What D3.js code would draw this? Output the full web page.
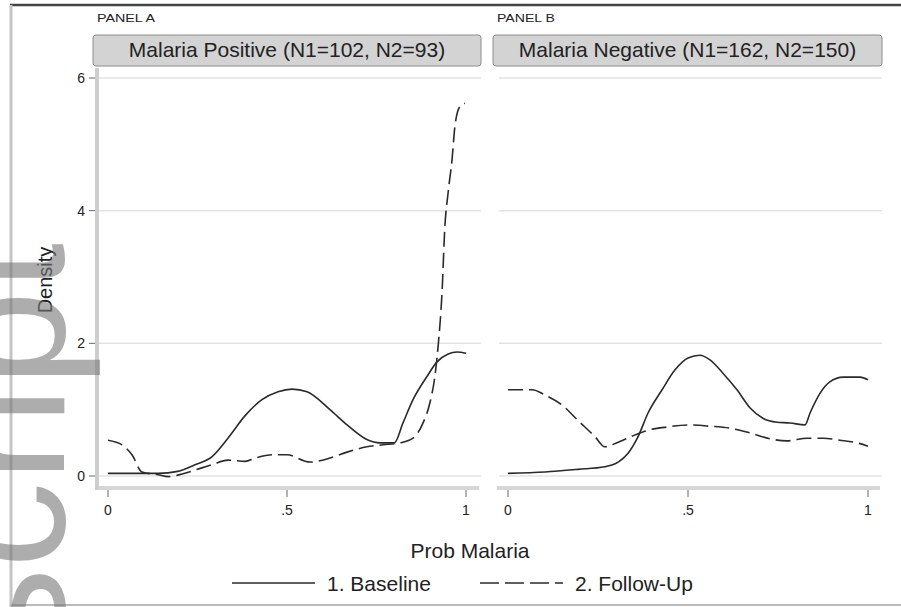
<!DOCTYPE html>
<meta charset="utf-8">
<script src="https://d3js.org/d3.v7.min.js"></script>
<style>
  body { margin: 0; background: #fff; }
  text { font-family: "Liberation Sans", Arial, sans-serif; fill: #222; }
</style>
<svg id="chart" width="901" height="607"></svg>
<script>

  // data
  var panelTitles = ["PANEL A", "PANEL B"]
  var stripLabels = ["Malaria Positive (N1=102, N2=93)", "Malaria Negative (N1=162, N2=150)"]
  var yTicks = [0, 2, 4, 6]
  var xTicks = [0, 0.5, 1]
  var xTickLabels = ["0", ".5", "1"]
  var seriesNames = ["1. Baseline", "2. Follow-Up"]

  var posBaseline = [[0,0.04],[0.14,0.04],[0.195,0.07],[0.243,0.17],[0.29,0.29],[0.335,0.57],
    [0.383,0.91],[0.43,1.15],[0.475,1.27],[0.514,1.31],[0.556,1.27],[0.62,1.0],[0.668,0.77],
    [0.723,0.55],[0.76,0.5],[0.80,0.5],[0.824,0.8],[0.852,1.15],[0.891,1.5],[0.919,1.72],
    [0.95,1.84],[0.975,1.87],[1.0,1.85]]
  var posFollowUp = [[0,0.54],[0.039,0.47],[0.067,0.32],[0.095,0.06],[0.14,0.02],[0.168,-0.01],
    [0.207,0.03],[0.243,0.09],[0.29,0.17],[0.335,0.24],[0.383,0.22],[0.411,0.27],[0.458,0.32],
    [0.5,0.32],[0.564,0.21],[0.62,0.27],[0.668,0.36],[0.723,0.44],[0.768,0.47],[0.816,0.5],
    [0.852,0.57],[0.88,0.8],[0.899,1.1],[0.913,1.5],[0.922,1.95],[0.933,2.76],[0.941,3.76],
    [0.95,4.27],[0.961,4.77],[0.969,5.27],[0.983,5.57],[0.997,5.62]]
  var negBaseline = [[0,0.04],[0.103,0.06],[0.194,0.1],[0.269,0.14],[0.306,0.21],[0.333,0.34],
    [0.361,0.59],[0.389,0.95],[0.428,1.3],[0.464,1.6],[0.5,1.78],[0.533,1.82],[0.561,1.75],
    [0.597,1.55],[0.636,1.3],[0.672,1.03],[0.708,0.87],[0.747,0.81],[0.783,0.8],[0.825,0.77],
    [0.839,0.95],[0.867,1.25],[0.894,1.42],[0.931,1.49],[0.978,1.49],[1.0,1.45]]
  var negFollowUp = [[0,1.3],[0.067,1.3],[0.103,1.22],[0.15,1.07],[0.194,0.84],[0.242,0.59],
    [0.269,0.44],[0.306,0.51],[0.353,0.62],[0.389,0.69],[0.444,0.74],[0.5,0.77],[0.561,0.75],
    [0.617,0.72],[0.672,0.65],[0.728,0.56],[0.775,0.53],[0.831,0.57],[0.875,0.57],
    [0.922,0.54],[0.969,0.5],[1.0,0.45]]

  var panels = [
    { left: 97, right: 481, x0: 108, x1: 466, title: panelTitles[0], strip: stripLabels[0], series: [posBaseline, posFollowUp] },
    { left: 497, right: 882, x0: 508, x1: 868, title: panelTitles[1], strip: stripLabels[1], series: [negBaseline, negFollowUp] }
  ]
  var dashes = [null, "15,6"]

  var svg = d3.select("#chart")
  var y = d3.scaleLinear().domain([0, 6]).range([476, 78])

  // page frame
  svg.append("line").attr("x1", 10).attr("x2", 901).attr("y1", 5).attr("y2", 5)
    .attr("stroke", "#444").attr("stroke-width", 2.5)
  svg.append("line").attr("x1", 11).attr("x2", 11).attr("y1", 5).attr("y2", 607)
    .attr("stroke", "#c4c4c4").attr("stroke-width", 3)
  svg.append("line").attr("x1", 10).attr("x2", 901).attr("y1", 605).attr("y2", 605)
    .attr("stroke", "#bbb").attr("stroke-width", 2)

  panels.forEach(function(p, i) {
    var x = d3.scaleLinear().domain([0, 1]).range([p.x0, p.x1])
    var g = svg.append("g")

    g.append("text").attr("x", p.left).attr("y", 22)
      .attr("textLength", 58).attr("lengthAdjust", "spacingAndGlyphs")
      .style("font-size", "11px").text(p.title)

    g.append("rect").attr("x", p.left - 4).attr("y", 35)
      .attr("width", p.right - p.left + 4).attr("height", 31).attr("rx", 3)
      .attr("fill", "#d3d3d3").attr("stroke", "#8c8c8c")
    g.append("text").attr("x", (p.left - 4 + p.right) / 2).attr("y", 57)
      .attr("text-anchor", "middle").style("font-size", "21px").text(p.strip)

    // gridlines
    g.selectAll(".grid").data(yTicks).enter().append("line")
      .attr("x1", p.left + 2).attr("x2", p.right)
      .attr("y1", function(d) { return y(d) }).attr("y2", function(d) { return y(d) })
      .attr("stroke", "#e3e3e3").attr("stroke-width", 1.5)

    // x axis
    g.append("line").attr("x1", p.left).attr("x2", p.right - 2).attr("y1", 488).attr("y2", 488)
      .attr("stroke", "#d6d6d6").attr("stroke-width", 4)
    g.selectAll(".xt").data(xTicks).enter().append("line")
      .attr("x1", function(d) { return x(d) }).attr("x2", function(d) { return x(d) })
      .attr("y1", 490).attr("y2", 497).attr("stroke", "#666").attr("stroke-width", 1)
    g.selectAll(".xl").data(xTicks).enter().append("text")
      .attr("x", function(d) { return x(d) }).attr("y", 515)
      .attr("text-anchor", "middle").style("font-size", "14px")
      .text(function(d, j) { return xTickLabels[j] })

    // y axis only on the first panel
    if (i === 0) {
      g.append("line").attr("x1", p.left).attr("x2", p.left).attr("y1", 68).attr("y2", 490)
        .attr("stroke", "#cdcdcd").attr("stroke-width", 4)
      g.selectAll(".yt").data(yTicks).enter().append("line")
        .attr("x1", 89).attr("x2", 95)
        .attr("y1", function(d) { return y(d) }).attr("y2", function(d) { return y(d) })
        .attr("stroke", "#666").attr("stroke-width", 1)
      g.selectAll(".yl").data(yTicks).enter().append("text")
        .attr("x", 85).attr("y", function(d) { return y(d) }).attr("dy", "0.35em")
        .attr("text-anchor", "end").style("font-size", "14px")
        .text(function(d) { return d })
    }

    var line = d3.line()
      .x(function(d) { return x(d[0]) })
      .y(function(d) { return y(d[1]) })
      .curve(d3.curveMonotoneX)

    p.series.forEach(function(s, k) {
      g.append("path").datum(s).attr("d", line)
        .attr("fill", "none").attr("stroke", "#2a2a2a").attr("stroke-width", 1.6)
        .attr("stroke-dasharray", dashes[k])
    })
  })

  svg.append("text").attr("transform", "translate(52,280) rotate(-90)")
    .attr("text-anchor", "middle").style("font-size", "20px").text("Density")
  svg.append("text").attr("x", 470).attr("y", 558)
    .attr("text-anchor", "middle").style("font-size", "21px").text("Prob Malaria")

  // legend
  var legendX = [232, 480]
  seriesNames.forEach(function(name, k) {
    svg.append("line").attr("x1", legendX[k]).attr("x2", legendX[k] + 83)
      .attr("y1", 583).attr("y2", 583)
      .attr("stroke", "#2a2a2a").attr("stroke-width", 1.6)
      .attr("stroke-dasharray", k === 1 ? "19,6" : null)
    svg.append("text").attr("x", legendX[k] + 95).attr("y", 591)
      .style("font-size", "21px").text(name)
  })

  // manuscript watermark at the left edge
  svg.append("text").attr("transform", "translate(64,243) rotate(-90)")
    .attr("text-anchor", "end").style("font-size", "172px")
    .style("fill", "#777").style("opacity", 0.6).text("script")

</script>
